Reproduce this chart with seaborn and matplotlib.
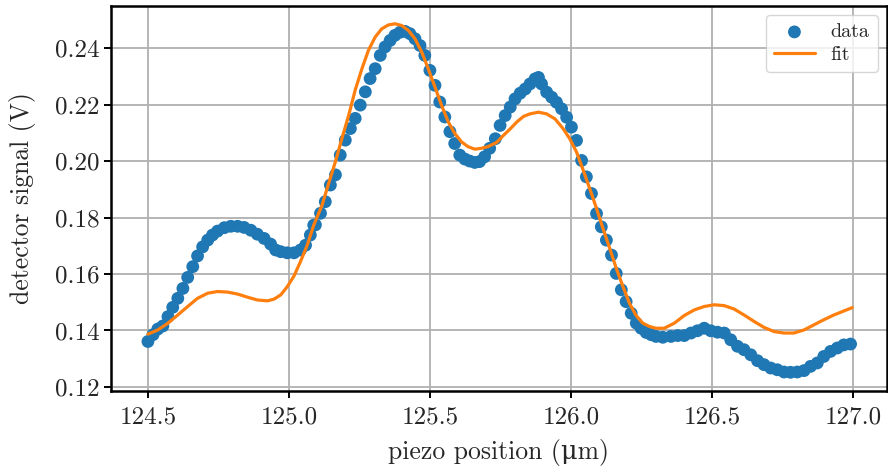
import matplotlib
matplotlib.use("Agg")
import matplotlib.pyplot as plt
import seaborn as sns
import pandas as pd

# measured data (piezo position in µm, detector signal in V)
data_x = [124.500, 124.518, 124.535, 124.553, 124.571, 124.588, 124.606, 124.624,
          124.641, 124.659, 124.676, 124.694, 124.712, 124.729, 124.747, 124.771,
          124.794, 124.818, 124.841, 124.865, 124.888, 124.912, 124.935, 124.953,
          124.971, 124.994, 125.018, 125.041, 125.059, 125.076, 125.088,
          125.094, 125.112, 125.129, 125.147, 125.165, 125.182, 125.200, 125.218,
          125.235, 125.253, 125.271, 125.288, 125.306, 125.324, 125.341, 125.359,
          125.376, 125.394, 125.412, 125.429, 125.447, 125.465, 125.482, 125.500,
          125.518, 125.535, 125.553, 125.571, 125.588, 125.606, 125.624, 125.641,
          125.659, 125.676, 125.694, 125.712,
          125.732, 125.749, 125.767, 125.785, 125.802, 125.820, 125.838, 125.855,
          125.873, 125.885, 125.896, 125.914, 125.932, 125.949, 125.967, 125.985,
          126.002, 126.020, 126.038, 126.055, 126.073, 126.091, 126.108, 126.126,
          126.144, 126.161, 126.179, 126.196, 126.214, 126.232, 126.249, 126.267,
          126.285, 126.302, 126.326,
          126.355, 126.379, 126.402, 126.426, 126.449, 126.473, 126.496, 126.520,
          126.544, 126.567, 126.591, 126.614, 126.638, 126.662, 126.685, 126.709,
          126.732, 126.756, 126.779, 126.803, 126.827, 126.850, 126.874, 126.897,
          126.921, 126.945, 126.968, 126.992]
data_y = [0.1361, 0.1385, 0.1405, 0.1416, 0.1449, 0.1482, 0.1514, 0.1549,
          0.1588, 0.1626, 0.1664, 0.1696, 0.1720, 0.1738, 0.1752, 0.1764,
          0.1769, 0.1769, 0.1765, 0.1755, 0.1741, 0.1726, 0.1706, 0.1685,
          0.1679, 0.1675, 0.1675, 0.1685, 0.1702, 0.1738, 0.1773,
          0.1774, 0.1815, 0.1856, 0.1915, 0.1951, 0.2021, 0.2074, 0.2115,
          0.2151, 0.2198, 0.2245, 0.2292, 0.2327, 0.2374, 0.2404, 0.2427,
          0.2445, 0.2456, 0.2459, 0.2451, 0.2433, 0.2409, 0.2374, 0.2321,
          0.2268, 0.2209, 0.2156, 0.2104, 0.2062, 0.2021, 0.2007, 0.2000,
          0.1995, 0.1998, 0.2015, 0.2045,
          0.2079, 0.2126, 0.2161, 0.2191, 0.2220, 0.2240, 0.2255, 0.2273,
          0.2291, 0.2296, 0.2273, 0.2244, 0.2226, 0.2208, 0.2185, 0.2155,
          0.2120, 0.2073, 0.2002, 0.1944, 0.1885, 0.1814, 0.1767, 0.1720,
          0.1667, 0.1602, 0.1544, 0.1502, 0.1461, 0.1426, 0.1408, 0.1393,
          0.1385, 0.1379, 0.1376,
          0.1379, 0.1382, 0.1382, 0.1391, 0.1399, 0.1408, 0.1399, 0.1394,
          0.1391, 0.1367, 0.1344, 0.1332, 0.1314, 0.1293, 0.1279, 0.1267,
          0.1261, 0.1253, 0.1252, 0.1253, 0.1258, 0.1273, 0.1285, 0.1308,
          0.1326, 0.1338, 0.1349, 0.1352]

# fitted model curve
fit_x = [124.500, 124.535, 124.571, 124.606, 124.641, 124.676, 124.712, 124.747,
         124.782, 124.818, 124.853, 124.888, 124.924, 124.947, 124.971, 124.994,
         125.018, 125.041, 125.065, 125.088,
         125.118, 125.141, 125.165, 125.188, 125.212, 125.235, 125.259, 125.282,
         125.306, 125.329, 125.353, 125.376, 125.400, 125.424, 125.447, 125.471,
         125.494, 125.518, 125.541, 125.565, 125.588, 125.612, 125.635, 125.659,
         125.682, 125.706, 125.729,
         125.738, 125.761, 125.785, 125.808, 125.832, 125.855, 125.885, 125.914,
         125.944, 125.973, 125.996, 126.020, 126.044, 126.067, 126.091, 126.114,
         126.138, 126.161, 126.185, 126.208, 126.232, 126.255, 126.279, 126.302,
         126.331, 126.367, 126.402, 126.438, 126.473, 126.508, 126.544, 126.579,
         126.614, 126.650, 126.685, 126.721, 126.756, 126.791, 126.827, 126.862,
         126.897, 126.933, 126.968, 126.998]
fit_y = [0.1387, 0.1402, 0.1426, 0.1455, 0.1485, 0.1514, 0.1532, 0.1538,
         0.1536, 0.1529, 0.1518, 0.1508, 0.1505, 0.1511, 0.1526, 0.1555,
         0.1593, 0.1644, 0.1702, 0.1773,
         0.1845, 0.1921, 0.1998, 0.2080, 0.2162, 0.2251, 0.2327, 0.2392,
         0.2439, 0.2468, 0.2482, 0.2486, 0.2480, 0.2462, 0.2433, 0.2386,
         0.2327, 0.2262, 0.2198, 0.2139, 0.2098, 0.2068, 0.2051, 0.2042,
         0.2045, 0.2051, 0.2062,
         0.2067, 0.2091, 0.2114, 0.2138, 0.2158, 0.2167, 0.2173, 0.2167,
         0.2149, 0.2114, 0.2079, 0.2032, 0.1967, 0.1902, 0.1832, 0.1761,
         0.1690, 0.1620, 0.1555, 0.1496, 0.1452, 0.1426, 0.1414, 0.1408,
         0.1408, 0.1426, 0.1453, 0.1473, 0.1485, 0.1491, 0.1488, 0.1476,
         0.1455, 0.1432, 0.1411, 0.1396, 0.1391, 0.1391, 0.1402, 0.1420,
         0.1438, 0.1455, 0.1469, 0.1481]

x_ticks = [124.5, 125.0, 125.5, 126.0, 126.5, 127.0]
y_ticks = [0.12, 0.14, 0.16, 0.18, 0.20, 0.22, 0.24]

sns.set_style("ticks")
plt.rcParams["font.family"] = ["cmr10", "DejaVu Serif"]
plt.rcParams["mathtext.fontset"] = "cm"
plt.rcParams["axes.formatter.use_mathtext"] = True
plt.rcParams["axes.unicode_minus"] = False

df_data = pd.DataFrame({"x": data_x, "y": data_y})
df_fit = pd.DataFrame({"x": fit_x, "y": fit_y})

fig, ax = plt.subplots(figsize=(8.88, 4.71), dpi=100)
fig.subplots_adjust(left=0.125, right=0.9985, top=0.9873, bottom=0.17)

ax.grid(True, color="#b0b0b0", linewidth=1.3, zorder=0)
ax.set_axisbelow(True)

sns.scatterplot(data=df_data, x="x", y="y", ax=ax, color="#1f77b4", s=85,
                edgecolor="none", linewidth=0, label="data", zorder=2)
sns.lineplot(data=df_fit, x="x", y="y", ax=ax, color="#ff7f0e", linewidth=2.3,
             label="fit", zorder=3)

ax.set_xlim(124.369, 127.12)
ax.set_ylim(0.1186, 0.2549)
ax.set_xticks(x_ticks)
ax.set_yticks(y_ticks)
ax.set_xticklabels([f"{v:.1f}" for v in x_ticks])
ax.set_yticklabels([f"{v:.2f}" for v in y_ticks])

ax.set_xlabel("piezo position (\u03bcm)", fontsize=18.5, labelpad=8)
ax.set_ylabel("detector signal (V)", fontsize=18.5, labelpad=14)
ax.tick_params(axis="both", labelsize=18, direction="out", length=5, width=1.4,
               color="black")
ax.tick_params(axis="x", pad=6)
ax.tick_params(axis="y", pad=3)
for sp in ax.spines.values():
    sp.set_visible(True)
    sp.set_linewidth(1.8)
    sp.set_color("black")

leg = ax.legend(loc="upper right", fontsize=14.5, frameon=True, fancybox=True,
                borderpad=0.4, handlelength=2.0, labelspacing=0.25,
                handletextpad=0.8, borderaxespad=0.45)
leg.get_frame().set_edgecolor("#cccccc")
leg.get_frame().set_linewidth(1.0)

fig.savefig("out.png", dpi=100)
